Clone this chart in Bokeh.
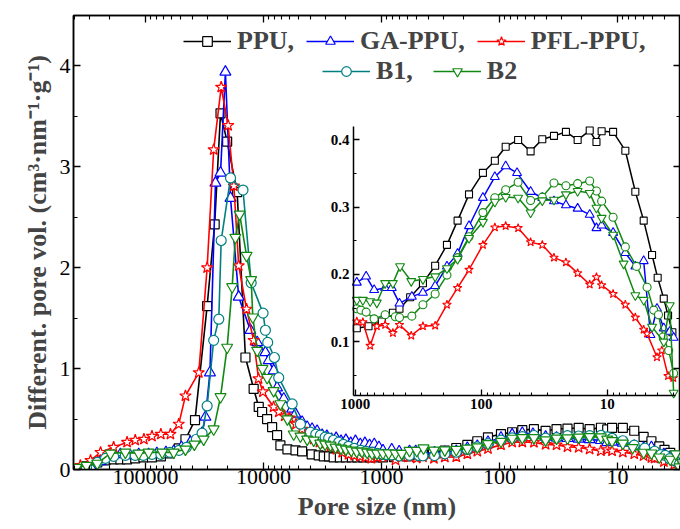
from bokeh.plotting import figure
from bokeh.models import (Range1d, LogScale, LinearAxis, LogAxis, FixedTicker,
                          PrintfTickFormatter, Legend, LegendItem)
from bokeh.embed import file_html
from bokeh.resources import INLINE
import math

# ---------------- data (pore size in nm, differential pore volume) ----------------
ppu_x = [356000, 316000, 256000, 218000, 186000, 163000, 143000, 122000, 104000, 88000,
         74000, 62000, 52200, 45800, 38000, 30000, 25900, 23100, 20300, 16700,
         14200, 12100, 10960, 10260, 9310, 8440, 7660, 7180, 6260, 5350,
         4700, 3900, 3400, 3080, 2780, 2540, 2250, 2000, 1780, 1600, 1420, 1250, 1110,
         970, 783, 614, 502, 445, 366, 290, 232, 187, 154, 125, 97, 78, 64, 51,
         40.6, 32.8, 26.5, 21.3, 17.2, 13.8, 12.2, 11.1, 9.0, 7.2, 6.0, 5.15, 4.42,
         3.99, 3.57, 3.3, 3.05]
ppu_y = [0.01, 0.03, 0.07, 0.09, 0.10, 0.10, 0.10, 0.11, 0.12, 0.12,
         0.13, 0.16, 0.21, 0.30, 0.49, 1.62, 2.43, 3.53, 3.25, 2.75,
         1.11, 0.80, 0.62, 0.57, 0.50, 0.42, 0.34, 0.24, 0.20, 0.19,
         0.18, 0.15, 0.14, 0.13, 0.13, 0.12, 0.12, 0.12, 0.12, 0.12, 0.12, 0.12, 0.12,
         0.120, 0.123, 0.130, 0.143, 0.149, 0.166, 0.187, 0.213, 0.244, 0.280, 0.319, 0.351,
         0.369, 0.390, 0.400, 0.383, 0.401, 0.406, 0.412, 0.400, 0.414, 0.397, 0.413, 0.412,
         0.384, 0.323, 0.280, 0.229, 0.195, 0.164, 0.139, 0.114]

ga_x = [356000, 292000, 240000, 198000, 163000, 135000, 114000, 94000, 80000, 67000,
        57600, 49500, 41600, 33100, 31000, 28400, 25500, 23100, 21000, 19000,
        16200, 12900, 11300, 9620, 9020, 8180, 7660, 6730, 5710, 5350,
        4700, 4260, 3870, 3510, 3180, 2900, 2650, 2420, 2200, 2000, 1820, 1660,
        1510, 1380, 1260, 1150, 1050,
        970, 818, 707, 578, 512, 445, 355, 290, 232, 187, 154, 125, 97, 78, 64, 52,
        40.6, 32.8, 26.5, 21.3, 17.2, 13.8, 12.2, 11.1, 9.0, 7.2, 6.0, 5.15, 4.55,
        4.04, 3.57, 3.2, 2.98]
ga_y = [0.00, 0.03, 0.08, 0.13, 0.15, 0.14, 0.15, 0.15, 0.16, 0.17,
        0.18, 0.22, 0.27, 0.36, 0.52, 0.96, 2.84, 2.94, 3.94, 2.69,
        1.71, 1.38, 1.26, 1.16, 1.08, 0.98, 0.81, 0.70, 0.60, 0.55,
        0.47, 0.42, 0.40, 0.38, 0.34, 0.33, 0.30, 0.31, 0.28, 0.29, 0.26, 0.28,
        0.25, 0.26, 0.24, 0.25, 0.22,
        0.188, 0.197, 0.177, 0.180, 0.180, 0.157, 0.167, 0.173, 0.183, 0.212, 0.231, 0.272,
        0.314, 0.345, 0.361, 0.351, 0.323, 0.314, 0.309, 0.303, 0.298, 0.289, 0.269, 0.273,
        0.262, 0.232, 0.212, 0.220, 0.110, 0.149, 0.120, 0.115, 0.106]

pfl_x = [356000, 292000, 240000, 186000, 143000, 122000, 103000, 88000, 74000, 61400,
         52200, 45800, 35300, 30000, 26400, 22800, 19900, 17800, 16200, 13900,
         12100, 11000, 10100, 8200, 7400, 6600, 6000, 5300, 4700, 4200, 3750, 3350, 3000,
         2700, 2400, 2150, 1900, 1700, 1520, 1360, 1220, 1090,
         970, 868, 760, 673, 578, 502, 445, 359, 290, 232, 187, 154, 125, 97, 78, 64, 51,
         40.6, 32.8, 26.5, 21.3, 17.2, 13.8, 12.2, 11.1, 9.0, 7.2, 6.0, 5.15, 4.84,
         4.04, 3.7, 3.3, 3.0]
pfl_y = [0.04, 0.09, 0.17, 0.22, 0.27, 0.29, 0.30, 0.33, 0.35, 0.35,
         0.45, 0.73, 0.96, 2.00, 3.17, 3.79, 3.41, 2.81, 2.02, 1.59,
         1.28, 0.90, 0.77, 0.62, 0.57, 0.53, 0.51, 0.45, 0.40, 0.34, 0.30, 0.27, 0.26,
         0.23, 0.20, 0.17, 0.15, 0.14, 0.13, 0.12, 0.11, 0.12,
         0.130, 0.129, 0.094, 0.123, 0.125, 0.113, 0.125, 0.109, 0.123, 0.124, 0.155, 0.180,
         0.207, 0.244, 0.270, 0.272, 0.269, 0.248, 0.244, 0.225, 0.218, 0.202, 0.185, 0.196,
         0.184, 0.171, 0.155, 0.136, 0.118, 0.112, 0.077, 0.087, 0.049, 0.046]

b1_x = [316000, 256000, 218000, 186000, 148000, 122000, 104000, 88000, 74000, 62000,
        52000, 44900, 37000, 33100, 30000, 26400, 23900, 22800, 19000, 14900,
        12700, 10070, 9620, 9200, 8070, 7420, 5710, 4860, 4000, 3600, 3290,
        3000, 2800, 2550, 2300, 2100, 1900, 1700, 1500, 1350, 1200, 1080,
        970, 900, 818, 707, 578, 480, 445, 355, 290, 232, 187, 154, 125, 97, 78, 64, 51,
        40.6, 32.8, 26.5, 21.3, 17.2, 13.8, 12.2, 11.1, 9.0, 7.2, 5.87, 4.84, 4.29,
        3.93, 3.61, 3.26, 2.98]
b1_y = [0.02, 0.07, 0.11, 0.13, 0.14, 0.14, 0.14, 0.15, 0.15, 0.17,
        0.19, 0.22, 0.30, 0.36, 0.63, 1.28, 1.49, 2.27, 2.89, 2.77,
        1.85, 1.55, 1.38, 1.26, 1.11, 0.91, 0.65, 0.45, 0.37, 0.35, 0.34,
        0.32, 0.31, 0.29, 0.27, 0.25, 0.23, 0.21, 0.19, 0.18, 0.17, 0.16,
        0.149, 0.147, 0.144, 0.134, 0.140, 0.137, 0.136, 0.138, 0.155, 0.171, 0.199, 0.225,
        0.256, 0.292, 0.314, 0.326, 0.337, 0.310, 0.315, 0.336, 0.332, 0.335, 0.339, 0.324,
        0.309, 0.285, 0.241, 0.212, 0.181, 0.147, 0.140, 0.107, 0.087, 0.053]

b2_x = [385000, 316000, 256000, 198000, 148000, 114000, 94000, 72000, 57600, 45800,
        38500, 32100, 26400, 23100, 20300, 18400, 17300, 15900, 13900, 12700,
        12300, 11300, 10200, 9300, 8200, 7180, 6260, 5540, 4860, 4260, 3750, 3300,
        3000, 2700, 2450, 2200, 2000, 1800, 1620, 1460, 1320, 1200, 1090,
        970, 868, 760, 673, 578, 502, 440, 359, 290, 232, 187, 154, 125, 97, 78, 64, 51,
        40.6, 32.8, 26.5, 21.3, 17.2, 13.8, 12.2, 11.1, 9.0, 7.43, 6.0, 5.15, 4.42,
        3.57, 3.2, 2.98]
b2_y = [0.02, 0.04, 0.06, 0.16, 0.17, 0.16, 0.17, 0.17, 0.17, 0.20,
        0.25, 0.30, 0.40, 0.72, 1.21, 1.81, 2.30, 2.53, 2.12, 1.88,
        1.51, 1.18, 1.00, 0.91, 0.78, 0.65, 0.50, 0.35, 0.33, 0.30, 0.29, 0.26,
        0.25, 0.24, 0.22, 0.21, 0.20, 0.19, 0.18, 0.18, 0.17, 0.16, 0.16,
        0.162, 0.162, 0.160, 0.158, 0.187, 0.187, 0.212, 0.190, 0.193, 0.197, 0.209, 0.223,
        0.254, 0.278, 0.308, 0.315, 0.314, 0.292, 0.310, 0.311, 0.319, 0.324, 0.321, 0.299,
        0.284, 0.259, 0.216, 0.169, 0.162, 0.122, 0.100, 0.154, 0.024]

labels = ["PPU,", "GA-PPU,", "PFL-PPU,", "B1,", "B2"]

main_x_ticks = [10, 100, 1000, 10000, 100000]
main_y_ticks = [0, 1, 2, 3, 4]
inset_x_ticks = [10, 100, 1000]
inset_y_ticks = [0.1, 0.2, 0.3, 0.4]

# ---------------- styles ----------------
FONT = "Liberation Serif"
series_style = [
    # marker, main colour, inset colour, main size, inset size
    ("square", "#000000", "#000000", 9, 7),
    ("triangle", "#0000FF", "#0000FF", 11, 9),
    ("star", "#FF0000", "#FF0000", 12, 9),
    ("circle", "#008080", "#118811", 10, 8),
    ("inverted_triangle", "#118811", "#118811", 11, 9),
]
series_data = [(ppu_x, ppu_y), (ga_x, ga_y), (pfl_x, pfl_y), (b1_x, b1_y), (b2_x, b2_y)]

X_START, X_END = 407000, 2.92
Y_START, Y_END = 0, 4.5

# inset placement as fractions of the main frame
INSET_FX0, INSET_FX1 = 0.4613, 0.9918
INSET_FY0, INSET_FY1 = 0.163, 0.7555
INSET_XL, INSET_XR = 1030.0, 2.88
INSET_YB, INSET_YT = 0.02, 0.42

p = figure(width=680, height=529, x_axis_type="log",
           x_range=Range1d(X_START, X_END), y_range=Range1d(Y_START, Y_END),
           output_backend="svg", toolbar_location=None,
           min_border_left=73, min_border_right=0, min_border_top=15, min_border_bottom=60,
           background_fill_color="white", border_fill_color="white",
           outline_line_color="black", outline_line_width=1.5)
p.grid.visible = False

x_minor = [m * 10 ** e for e in range(0, 6) for m in range(2, 10)]


def style_axis(ax, size, bold, tick_in=7, minor_in=4):
    ax.axis_line_width = 1.5
    ax.axis_line_color = "black"
    ax.major_tick_in = tick_in
    ax.major_tick_out = 0
    ax.minor_tick_in = minor_in
    ax.minor_tick_out = 0
    ax.major_tick_line_width = 1.3
    ax.minor_tick_line_width = 1.1
    ax.major_tick_line_color = "black"
    ax.minor_tick_line_color = "black"
    ax.major_label_text_font = FONT
    ax.major_label_text_font_size = size
    ax.major_label_text_font_style = "bold" if bold else "normal"
    ax.major_label_text_color = "black"


xa = p.xaxis[0]
xa.ticker = FixedTicker(ticks=main_x_ticks, minor_ticks=x_minor)
xa.formatter = PrintfTickFormatter(format="%d")
style_axis(xa, "22px", False)
xa.major_label_standoff = 0
xa.axis_label = "Pore size (nm)"
xa.axis_label_text_font = FONT
xa.axis_label_text_font_style = "bold"
xa.axis_label_text_font_size = "26px"
xa.axis_label_standoff = 5

ya = p.yaxis[0]
ya.ticker = FixedTicker(ticks=main_y_ticks, minor_ticks=[0.5, 1.5, 2.5, 3.5])
ya.formatter = PrintfTickFormatter(format="%d")
style_axis(ya, "22px", False)
ya.major_label_standoff = 3
ya.axis_label = "Different. pore vol. (cm\u00b3\u00b7nm\u207b\u00b9\u00b7g\u207b\u00b9)"
ya.axis_label_text_font = FONT
ya.axis_label_text_font_style = "bold"
ya.axis_label_text_font_size = "26px"
ya.axis_label_standoff = 5

# mirrored axes (ticks only)
top = LogAxis(ticker=FixedTicker(ticks=main_x_ticks, minor_ticks=x_minor))
style_axis(top, "0px", False)
top.major_label_text_color = None
top.major_label_standoff = 0
p.add_layout(top, "above")
right = LinearAxis(ticker=FixedTicker(ticks=main_y_ticks, minor_ticks=[0.5, 1.5, 2.5, 3.5]))
style_axis(right, "0px", False)
right.major_label_text_color = None
right.major_label_standoff = 0
p.add_layout(right, "right")

# inset ranges (log x, linear y) mapped onto a sub-box of the frame
la, lb = math.log10(INSET_XL), math.log10(INSET_XR)
span = (la - lb) / (INSET_FX1 - INSET_FX0)
S = la + INSET_FX0 * span
E = S - span
yspan = (INSET_YT - INSET_YB) / (INSET_FY1 - INSET_FY0)
ylo = INSET_YB - INSET_FY0 * yspan
yhi = ylo + yspan
p.extra_x_ranges = {"ix": Range1d(10 ** S, 10 ** E)}
p.extra_x_scales = {"ix": LogScale()}
p.extra_y_ranges = {"iy": Range1d(ylo, yhi)}

ix_axis = LogAxis(x_range_name="ix", y_range_name="iy", fixed_location=INSET_YB,
                  bounds=(INSET_XR, INSET_XL),
                  ticker=FixedTicker(ticks=inset_x_ticks,
                                     minor_ticks=[m * 10 ** e for e in range(0, 3) for m in range(2, 10)]),
                  formatter=PrintfTickFormatter(format="%d"))
style_axis(ix_axis, "15px", True, tick_in=6, minor_in=3)
ix_axis.major_label_standoff = 4
p.add_layout(ix_axis, "below")

iy_axis = LinearAxis(x_range_name="ix", y_range_name="iy", fixed_location=INSET_XL,
                     bounds=(INSET_YB, INSET_YT),
                     ticker=FixedTicker(ticks=inset_y_ticks, minor_ticks=[0.05, 0.15, 0.25, 0.35]),
                     formatter=PrintfTickFormatter(format="%.1f"))
style_axis(iy_axis, "15px", True, tick_in=6, minor_in=3)
iy_axis.major_label_standoff = 4
p.add_layout(iy_axis, "left")

items = []
for (xs, ys), (marker, col, icol, msize, isize), lab in zip(series_data, series_style, labels):
    lr = p.line(xs, ys, line_color=col, line_width=1.6)
    sr = p.scatter(xs, ys, marker=marker, size=msize, line_color=col, fill_color="white",
                   line_width=1.2)
    items.append(LegendItem(label=lab, renderers=[lr, sr]))

for (xs, ys), (marker, col, icol, msize, isize) in zip(series_data, series_style):
    xi = [x for x in xs if x <= INSET_XL]
    yi = [y for x, y in zip(xs, ys) if x <= INSET_XL]
    p.line(xi, yi, x_range_name="ix", y_range_name="iy", line_color=icol, line_width=1.5)
    p.scatter(xi, yi, x_range_name="ix", y_range_name="iy", marker=marker, size=isize,
              line_color=icol, fill_color="white", line_width=1.1)


def make_legend(its, loc, spacing):
    lg = Legend(items=its, location=loc, orientation="horizontal")
    lg.border_line_alpha = 0
    lg.background_fill_alpha = 0
    lg.padding = 0
    lg.margin = 0
    lg.spacing = spacing
    lg.label_standoff = 6
    lg.glyph_width = 48
    lg.glyph_height = 24
    lg.label_text_font = FONT
    lg.label_text_font_style = "bold"
    lg.label_text_font_size = "26px"
    lg.label_text_baseline = "middle"
    return lg


p.add_layout(make_legend(items[:3], (110, 413), 12))
p.add_layout(make_legend(items[3:], (249, 383), 20))

open("out.html", "w").write(file_html(p, INLINE))
